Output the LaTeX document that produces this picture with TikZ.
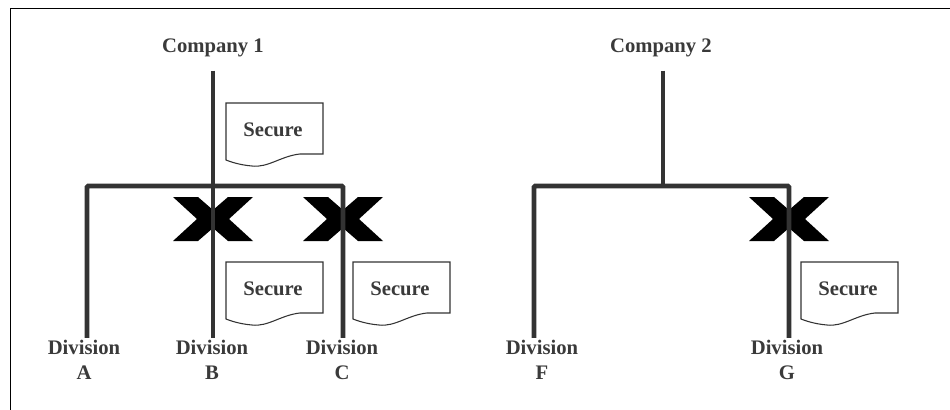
\documentclass[tikz,border=0pt]{standalone}
\usepackage{fontspec}
\setmainfont{Liberation Serif}
\usepackage{tikz}
\usetikzlibrary{positioning, calc}
\definecolor{branch}{RGB}{51, 51, 51}
\definecolor{inktext}{RGB}{58, 58, 58}

\begin{document}
\begin{tikzpicture}[x=0.75pt, y=-0.75pt, font=\fontsize{15.5}{19}\selectfont\bfseries,
        bar/.style={line width=3.6pt, draw=branch, rounded corners=1pt},
        org/.style={text=inktext, inner xsep=1pt, inner ysep=10pt},
        division/.style={text=inktext, align=center, inner sep=1.5pt},
        tag/.style={text=inktext},
        doc/.style={draw=branch, line width=0.8pt, fill=white},
        cross/.style={fill=black}]
        \useasboundingbox (0,0) rectangle (950,410);
        \draw[line width=1.1pt] (950,8.5) -- (10.5,8.5) -- (10.5,410);

        % companies and their branch points
        \node[org] (c1) at (213,48) {Company 1};
        \node[org] (c2) at (661,48) {Company 2};
        \coordinate (j1) at (213,186);
        \coordinate (j2) at (663,186);

        % divisions
        \foreach \n/\x/\lx in {A/87/84, B/213/212, C/343/342, F/534/542, G/789/787}
        {
            \coordinate (b\n) at (\x,186);
            \node[division] (d\n) at (\lx,360) {Division\\\n};
        }

        % cut links
        \foreach \n in {B, C, G}
            \fill[cross, shift={($(b\n)+(0,33)$)}] (-40,-22) -- (-15,-22) -- (0,-9) -- (15,-22) -- (40,-22) -- (16,0)
                -- (40,22) -- (15,22) -- (0,9) -- (-15,22) -- (-40,22) -- (-16,0) -- cycle;

        \draw[bar] (j1 |- c1.south) -- (j1);
        \draw[bar] (j2 |- c2.south) -- (j2);
        \draw[bar] (bA |- dA.north) -- (bA) -- (bC) -- (bC |- dC.north);
        \draw[bar] (bF |- dF.north) -- (bF) -- (bG) -- (bG |- dG.north);
        \draw[bar] (bB) -- (bB |- dB.north);

        % secure documents
        \foreach \n/\x/\y in {s1/226/103, s2/226/262, s3/353/262, s4/801/262}
        {
            \draw[doc] (\x,\y) -- ({\x+97},\y) -- ({\x+97},{\y+51}) -- ({\x+74},{\y+51})
                .. controls ({\x+55},{\y+53}) and ({\x+42},{\y+65}) .. ({\x+26},{\y+63})
                .. controls ({\x+14},{\y+62}) and ({\x+5},{\y+59}) .. (\x,{\y+57}) -- cycle;
            \node[tag] (\n) at ({\x+47},{\y+27}) {Secure};
        }
    \end{tikzpicture}
\end{document}
